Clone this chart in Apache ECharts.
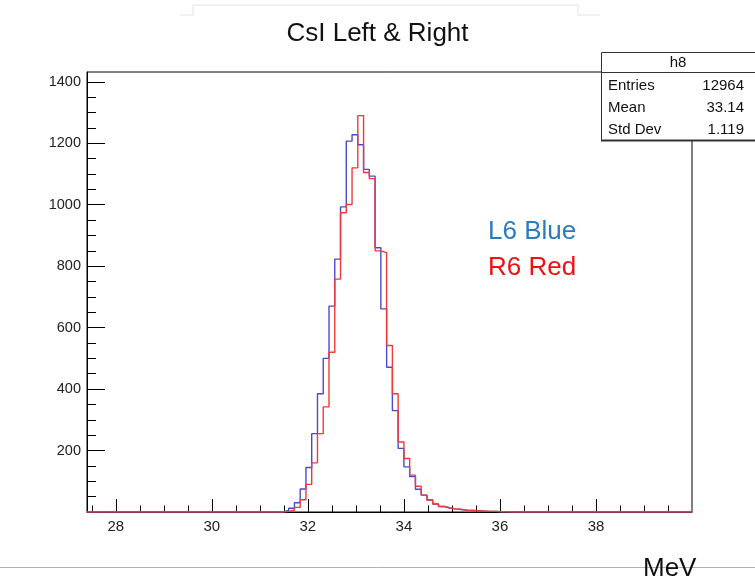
<!DOCTYPE html>
<html>
<head>
<meta charset="utf-8">
<script src="https://cdn.jsdelivr.net/npm/echarts@6/dist/echarts.min.js"></script>
<style>
  html, body { margin: 0; padding: 0; background: #fff; }
  #chart { width: 755px; height: 585px; }
</style>
</head>
<body>
<div id="chart"></div>
<script>
// Histogram binning (MeV)
const xMin = 27.4;
const xMax = 40.0;
const binWidth = 0.12;
const firstFilledBin = 33;   // index of the first bin listed below

// Counts per bin, starting at bin index firstFilledBin
const leftCounts = [
  0, 5, 12, 30, 75, 145, 255, 385, 500, 670,
  823, 993, 1207, 1228, 1195, 1115, 1093, 860, 661, 471,
  330, 207, 147, 115, 74, 55, 39, 26, 18, 13,
  10, 8, 6, 5, 4, 3, 2, 2, 1, 1
];
const rightCounts = [
  0, 2, 6, 15, 40, 90, 160, 255, 342, 520,
  758, 974, 1001, 1120, 1290, 1105, 1085, 850, 844, 542,
  385, 228, 174, 120, 84, 55, 39, 26, 18, 13,
  10, 8, 6, 5, 4, 3, 2, 2, 1, 1
];

// Axis ticks
const xTickLabels = [28, 30, 32, 34, 36, 38];
const xMinorTicks = [27.5, 28.5, 29, 29.5, 30.5, 31, 31.5, 32.5, 33, 33.5, 34.5, 35, 35.5,
                     36.5, 37, 37.5, 38.5, 39, 39.5];
const yTickLabels = [200, 400, 600, 800, 1000, 1200, 1400];
const yMinorTicks = [50, 100, 150, 250, 300, 350, 450, 500, 550, 650, 700, 750, 850, 900, 950,
                     1050, 1100, 1150, 1250, 1300, 1350];
const yMax = 1432;

// Stats box
const statsTitle = 'h8';
const statsRows = [['Entries', '12964'], ['Mean', '33.14'], ['Std Dev', '1.119']];

// Build step outline points: one point per bin left edge, plus closing edge
function stepPoints(counts) {
  const nBins = Math.round((xMax - xMin) / binWidth);
  const pts = [];
  for (let k = 0; k < nBins; k++) {
    const idx = k - firstFilledBin;
    const v = (idx >= 0 && idx < counts.length) ? counts[idx] : 0;
    pts.push([+(xMin + k * binWidth).toFixed(4), v]);
  }
  pts.push([xMax, 0]);
  return pts;
}

const FONT = 'Liberation Sans, Arial, Helvetica, sans-serif';
const chart = echarts.init(document.getElementById('chart'), null, { renderer: 'canvas' });

const gridLeft = 87, gridRight = 63, gridTop = 72, gridBottom = 73;
const plain = v => String(v);

chart.setOption({
  animation: false,
  backgroundColor: '#ffffff',
  grid: {
    left: gridLeft, right: gridRight, top: gridTop, bottom: gridBottom,
    show: true, borderColor: '#000', borderWidth: 1, backgroundColor: '#fff'
  },
  xAxis: [
    {
      type: 'value', min: xMin, max: xMax, position: 'bottom',
      axisLine: { show: true, onZero: false, lineStyle: { color: '#000', width: 1 } },
      axisTick: { show: true, inside: true, length: 13, customValues: xTickLabels,
                  lineStyle: { color: '#000', width: 1 } },
      axisLabel: { show: true, customValues: xTickLabels, margin: 7, color: '#222',
                   fontSize: 15, fontFamily: FONT, formatter: plain },
      splitLine: { show: false }
    },
    {
      type: 'value', min: xMin, max: xMax, position: 'bottom',
      axisLine: { show: false },
      axisTick: { show: true, inside: true, length: 6.5, customValues: xMinorTicks,
                  lineStyle: { color: '#000', width: 1 } },
      axisLabel: { show: false },
      splitLine: { show: false }
    }
  ],
  yAxis: [
    {
      type: 'value', min: 0, max: yMax, position: 'left',
      axisLine: { show: true, onZero: false, lineStyle: { color: '#000', width: 1 } },
      axisTick: { show: true, inside: true, length: 18, customValues: yTickLabels,
                  lineStyle: { color: '#000', width: 1 } },
      axisLabel: { show: true, customValues: yTickLabels, margin: 6, color: '#222',
                   fontSize: 14.5, fontFamily: FONT, formatter: plain },
      splitLine: { show: false }
    },
    {
      type: 'value', min: 0, max: yMax, position: 'left',
      axisLine: { show: false },
      axisTick: { show: true, inside: true, length: 9, customValues: yMinorTicks,
                  lineStyle: { color: '#000', width: 1 } },
      axisLabel: { show: false },
      splitLine: { show: false }
    }
  ],
  series: [
    {
      name: 'L6', type: 'line', step: 'end', data: stepPoints(leftCounts),
      xAxisIndex: 0, yAxisIndex: 0, showSymbol: false, symbol: 'none', z: 3,
      lineStyle: { color: '#4a4ad0', width: 1.4 }
    },
    {
      name: 'R6', type: 'line', step: 'end', data: stepPoints(rightCounts),
      xAxisIndex: 0, yAxisIndex: 0, showSymbol: false, symbol: 'none', z: 4,
      lineStyle: { color: '#f03a3a', width: 1.4 }
    }
  ],
  graphic: [
    // faint title frame
    { type: 'polyline', silent: true, z: 1,
      shape: { points: [[180, 15], [193, 15], [193, 5], [578, 5], [578, 15], [600, 15]] },
      style: { stroke: '#e2e2e2', lineWidth: 1, fill: null } },
    { type: 'text', left: 'center', top: 21, z: 10,
      style: { text: 'CsI Left & Right', font: '26px ' + FONT, fill: '#111' } },
    // bottom rule and axis unit
    { type: 'line', silent: true, z: 1,
      shape: { x1: 0, y1: 567.5, x2: 755, y2: 567.5 },
      style: { stroke: '#b0b0b0', lineWidth: 1 } },
    { type: 'text', x: 643, y: 556, z: 10,
      style: { text: 'MeV', font: '26px ' + FONT, fill: '#111' } },
    // legend texts
    { type: 'text', x: 488, y: 219, z: 10,
      style: { text: 'L6 Blue', font: '26px ' + FONT, fill: '#2b7bbf' } },
    { type: 'text', x: 488, y: 255, z: 10,
      style: { text: 'R6 Red', font: '26px ' + FONT, fill: '#f01010' } },
    // stats box
    {
      type: 'group', x: 601, y: 52, z: 20,
      children: [
        { type: 'rect', shape: { x: 0.5, y: 0.5, width: 170, height: 88 },
          style: { fill: '#fff', stroke: '#333', lineWidth: 1 } },
        { type: 'line', shape: { x1: 0, y1: 88.5, x2: 170, y2: 88.5 },
          style: { stroke: '#333', lineWidth: 2 } },
        { type: 'line', shape: { x1: 0, y1: 20.5, x2: 170, y2: 20.5 },
          style: { stroke: '#333', lineWidth: 1 } },
        { type: 'text', x: 77, y: 11, style: { text: statsTitle, font: '15px ' + FONT,
          fill: '#111', align: 'center', verticalAlign: 'middle' } }
      ].concat(statsRows.flatMap((r, i) => [
        { type: 'text', x: 7, y: 34 + i * 22, style: { text: r[0], font: '15px ' + FONT,
          fill: '#111', align: 'left', verticalAlign: 'middle' } },
        { type: 'text', x: 143, y: 34 + i * 22, style: { text: r[1], font: '15px ' + FONT,
          fill: '#111', align: 'right', verticalAlign: 'middle' } }
      ]))
    }
  ]
});
</script>
</body>
</html>
